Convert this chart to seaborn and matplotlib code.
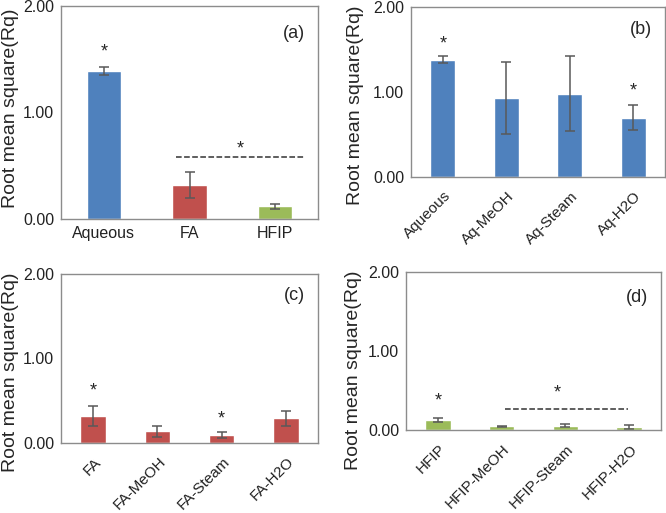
import matplotlib
matplotlib.use('Agg')
import matplotlib.pyplot as plt
import matplotlib.transforms as mtransforms
import numpy as np
import seaborn as sns

# Data
cats_a = ['Aqueous', 'FA', 'HFIP']
vals_a = [1.39, 0.32, 0.12]
errs_a = [0.04, 0.12, 0.025]

cats_b = ['Aqueous', 'Aq-MeOH', 'Aq-Steam', 'Aq-H2O']
vals_b = [1.38, 0.93, 0.98, 0.70]
errs_b = [0.04, 0.42, 0.44, 0.15]

cats_c = ['FA', 'FA-MeOH', 'FA-Steam', 'FA-H2O']
vals_c = [0.32, 0.14, 0.095, 0.29]
errs_c = [0.12, 0.065, 0.035, 0.09]

cats_d = ['HFIP', 'HFIP-MeOH', 'HFIP-Steam', 'HFIP-H2O']
vals_d = [0.127, 0.047, 0.055, 0.04]
errs_d = [0.025, 0.008, 0.015, 0.025]

blue = '#4F81BD'
red = '#C0504D'
green = '#9BBB59'

sns.set_style('white')
plt.rcParams['font.family'] = ['Liberation Sans', 'DejaVu Sans']

W, H = 666, 513
fig = plt.figure(figsize=(W / 100, H / 100), dpi=100)


def make_ax(x0, y0, x1, y1):
    return fig.add_axes([x0 / W, 1 - y1 / H, (x1 - x0) / W, (y1 - y0) / H])


def panel(ax, cats, vals, errs, colors, label, rotate, ylab_xy, label_y=0.87):
    sns.barplot(x=cats, y=vals, palette=colors, hue=cats, legend=False,
                width=0.4, saturation=1, ax=ax)
    ax.errorbar(np.arange(len(cats)), vals, yerr=errs, fmt='none',
                ecolor='#595959', elinewidth=1.1, capsize=3.5, capthick=1.1)
    ax.set_ylim(0, 2)
    ax.set_xlim(-0.5, len(cats) - 0.5)
    ax.set_yticks([0, 1, 2])
    ax.set_yticklabels(['0.00', '1.00', '2.00'])
    ax.tick_params(axis='both', length=0, pad=5, labelsize=11.5, colors='#222222')
    ax.set_ylabel('Root mean square(Rq)', fontsize=14)
    ax.yaxis.set_label_coords(*ylab_xy)
    if rotate:
        ax.tick_params(axis='x', pad=8.5, labelsize=11)
        shift = mtransforms.ScaledTranslation(1 / 100, 0, fig.dpi_scale_trans)
        for t in ax.get_xticklabels():
            t.set_rotation(45)
            t.set_ha('right')
            t.set_rotation_mode('anchor')
            t.set_transform(t.get_transform() + shift)
    for s in ax.spines.values():
        s.set_color('#8c8c8c')
        s.set_linewidth(1.0)
    ax.text(0.95, label_y, label, transform=ax.transAxes, ha='right',
            va='center', fontsize=13)


def star(ax, x, y):
    ax.text(x, y, '*', ha='center', va='center', fontsize=13)


# (a)
ax = make_ax(61, 6, 318, 219)
panel(ax, cats_a, vals_a, errs_a, [blue, red, green], '(a)', False, (-0.165, 0.52))
star(ax, 0, 1.57)
ax.plot([0.84, 2.35], [0.585, 0.585], '--', color='#333333', lw=1.1)
star(ax, 1.59, 0.66)

# (b)
ax = make_ax(411, 7, 665, 177)
panel(ax, cats_b, vals_b, errs_b, [blue] * 4, '(b)', True, (-0.185, 0.42))
star(ax, 0, 1.57)
star(ax, 3, 1.01)

# (c)
ax = make_ax(61, 274, 318, 443)
panel(ax, cats_c, vals_c, errs_c, [red] * 4, '(c)', True, (-0.165, 0.42))
star(ax, 0, 0.61)
star(ax, 2, 0.28)

# (d)
ax = make_ax(406, 272, 661, 430)
panel(ax, cats_d, vals_d, errs_d, [green] * 4, '(d)', True, (-0.172, 0.38),
      label_y=0.84)
star(ax, 0, 0.37)
ax.plot([1.05, 2.98], [0.26, 0.26], '--', color='#333333', lw=1.1)
star(ax, 1.88, 0.47)

fig.savefig('out.png', dpi=100)
